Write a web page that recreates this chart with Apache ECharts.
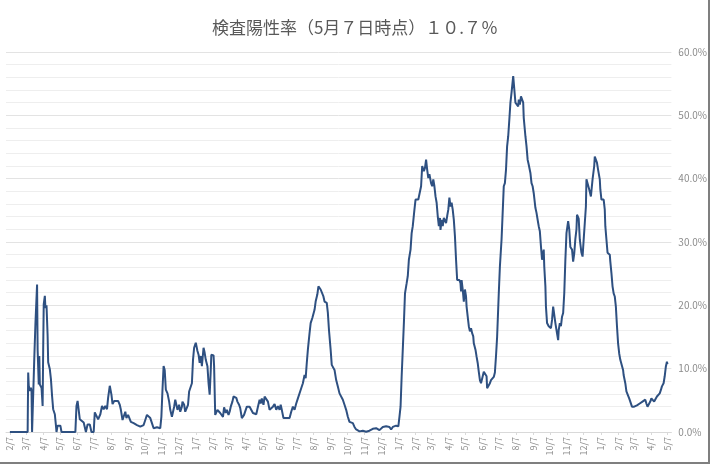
<!DOCTYPE html>
<html>
<head>
<meta charset="utf-8">
<script src="https://cdn.jsdelivr.net/npm/echarts@6/dist/echarts.min.js"></script>
<style>
html,body{margin:0;padding:0;background:#fff;}
#wrap{position:relative;width:710px;height:464px;}
#chart{position:absolute;left:0;top:0;width:710px;height:464px;}
#edgeR{position:absolute;right:0;top:0;width:2px;height:464px;background:#7f7f7f;}
#edgeB{position:absolute;left:0;bottom:0;width:710px;height:2px;background:#7f7f7f;}
</style>
</head>
<body>
<div id="wrap"><div id="chart"></div><div id="edgeR"></div><div id="edgeB"></div></div>
<script>
const titleText = '検査陽性率（5月７日時点）１０.７％';

const tickDates = [
 '2020-02-07','2020-03-07','2020-04-07','2020-05-07','2020-06-07','2020-07-07','2020-08-07','2020-09-07','2020-10-07','2020-11-07','2020-12-07',
 '2021-01-07','2021-02-07','2021-03-07','2021-04-07','2021-05-07','2021-06-07','2021-07-07','2021-08-07','2021-09-07','2021-10-07','2021-11-07','2021-12-07',
 '2022-01-07','2022-02-07','2022-03-07','2022-04-07','2022-05-07','2022-06-07','2022-07-07','2022-08-07','2022-09-07','2022-10-07','2022-11-07','2022-12-07',
 '2023-01-07','2023-02-07','2023-03-07','2023-04-07','2023-05-07'
];

const dates = [
'2020-02-07','2020-03-10','2020-03-11','2020-03-12','2020-03-14','2020-03-16','2020-03-17','2020-03-18','2020-03-21','2020-03-22',
'2020-03-24','2020-03-27','2020-03-28','2020-03-30','2020-03-31','2020-04-01','2020-04-03','2020-04-04','2020-04-06','2020-04-07',
'2020-04-08','2020-04-10','2020-04-11','2020-04-13','2020-04-15','2020-04-16','2020-04-19','2020-04-21','2020-04-23','2020-04-25',
'2020-04-28','2020-04-30','2020-05-01','2020-05-03','2020-05-08','2020-05-10','2020-06-04','2020-06-06','2020-06-08','2020-06-11',
'2020-06-12','2020-06-15','2020-06-19','2020-06-21','2020-06-23','2020-06-26','2020-06-30','2020-07-03','2020-07-07','2020-07-09',
'2020-07-12','2020-07-15','2020-07-19','2020-07-22','2020-07-25','2020-07-28','2020-07-31','2020-08-02','2020-08-05','2020-08-08',
'2020-08-10','2020-08-13','2020-08-16','2020-08-20','2020-08-23','2020-08-25','2020-08-28','2020-08-30','2020-09-02','2020-09-04',
'2020-09-07','2020-09-10','2020-09-12','2020-09-15','2020-09-17','2020-09-20','2020-09-23','2020-09-26','2020-09-29','2020-10-02',
'2020-10-05','2020-10-08','2020-10-11','2020-10-14','2020-10-17','2020-10-20','2020-10-23','2020-10-26','2020-10-29','2020-11-01',
'2020-11-04','2020-11-06','2020-11-08','2020-11-10','2020-11-12','2020-11-14','2020-11-17','2020-11-20','2020-11-22','2020-11-25',
'2020-11-27','2020-11-29','2020-12-01','2020-12-03','2020-12-05','2020-12-08','2020-12-10','2020-12-13','2020-12-14','2020-12-17',
'2020-12-19','2020-12-22','2020-12-24','2020-12-26','2020-12-29','2020-12-31','2021-01-02','2021-01-04','2021-01-07','2021-01-10',
'2021-01-12','2021-01-14','2021-01-16','2021-01-18','2021-01-21','2021-01-23','2021-01-25','2021-01-28','2021-01-30','2021-02-01',
'2021-02-03','2021-02-04','2021-02-08','2021-02-09','2021-02-11','2021-02-13','2021-02-15','2021-02-18','2021-02-20','2021-02-23',
'2021-02-25','2021-02-27','2021-03-02','2021-03-04','2021-03-07','2021-03-09','2021-03-11','2021-03-14','2021-03-16','2021-03-18',
'2021-03-21','2021-03-23','2021-03-26','2021-03-28','2021-03-31','2021-04-02','2021-04-04','2021-04-07','2021-04-09','2021-04-11',
'2021-04-14','2021-04-17','2021-04-20','2021-04-23','2021-04-26','2021-04-29','2021-05-02','2021-05-04','2021-05-06','2021-05-09',
'2021-05-11','2021-05-14','2021-05-17','2021-05-20','2021-05-23','2021-05-26','2021-05-29','2021-06-01','2021-06-04','2021-06-07',
'2021-06-09','2021-06-11','2021-06-14','2021-06-16','2021-06-19','2021-06-22','2021-06-25','2021-06-28','2021-07-01','2021-07-04',
'2021-07-07','2021-07-10','2021-07-13','2021-07-16','2021-07-19','2021-07-22','2021-07-24','2021-07-26','2021-07-28','2021-07-31',
'2021-08-02','2021-08-05','2021-08-07','2021-08-09','2021-08-11','2021-08-14','2021-08-16','2021-08-18','2021-08-20','2021-08-22',
'2021-08-25','2021-08-27','2021-08-29','2021-08-31','2021-09-02','2021-09-04','2021-09-07','2021-09-09','2021-09-12','2021-09-14',
'2021-09-17','2021-09-20','2021-09-23','2021-09-26','2021-09-29','2021-10-02','2021-10-05','2021-10-08','2021-10-11','2021-10-14',
'2021-10-17','2021-10-20','2021-10-23','2021-10-26','2021-10-29','2021-11-01','2021-11-04','2021-11-07','2021-11-10','2021-11-13',
'2021-11-16','2021-11-19','2021-11-22','2021-11-25','2021-11-28','2021-12-01','2021-12-04','2021-12-07','2021-12-10','2021-12-13',
'2021-12-16','2021-12-19','2021-12-22','2021-12-25','2021-12-28','2021-12-31','2022-01-03','2022-01-07','2022-01-09','2022-01-11',
'2022-01-13','2022-01-15','2022-01-17','2022-01-19','2022-01-22','2022-01-24','2022-01-26','2022-01-29','2022-01-31','2022-02-02',
'2022-02-05','2022-02-07','2022-02-10','2022-02-12','2022-02-14','2022-02-17','2022-02-19','2022-02-22','2022-02-24','2022-02-26',
'2022-02-28','2022-03-02','2022-03-04','2022-03-07','2022-03-09','2022-03-11','2022-03-13','2022-03-15','2022-03-17','2022-03-19',
'2022-03-21','2022-03-23','2022-03-24','2022-03-26','2022-03-28','2022-03-30','2022-04-01','2022-04-03','2022-04-05','2022-04-07',
'2022-04-09','2022-04-11','2022-04-13','2022-04-15','2022-04-17','2022-04-19','2022-04-21','2022-04-23','2022-04-25','2022-04-27',
'2022-04-29','2022-04-30','2022-05-01','2022-05-03','2022-05-05','2022-05-07','2022-05-09','2022-05-10','2022-05-12','2022-05-14',
'2022-05-16','2022-05-18','2022-05-20','2022-05-22','2022-05-23','2022-05-26','2022-05-28','2022-05-30','2022-06-01','2022-06-03',
'2022-06-05','2022-06-08','2022-06-10','2022-06-12','2022-06-15','2022-06-16','2022-06-18','2022-06-21','2022-06-23','2022-06-25',
'2022-06-28','2022-06-30','2022-07-02','2022-07-04','2022-07-07','2022-07-09','2022-07-12','2022-07-14','2022-07-16','2022-07-18',
'2022-07-20','2022-07-22','2022-07-24','2022-07-26','2022-07-28','2022-07-30','2022-08-02','2022-08-04','2022-08-06','2022-08-08',
'2022-08-11','2022-08-12','2022-08-14','2022-08-16','2022-08-18','2022-08-20','2022-08-21','2022-08-23','2022-08-24','2022-08-26',
'2022-08-28','2022-08-30','2022-09-01','2022-09-02','2022-09-04','2022-09-06','2022-09-08','2022-09-11','2022-09-13','2022-09-16',
'2022-09-17','2022-09-19','2022-09-21','2022-09-23','2022-09-25','2022-09-26','2022-09-27','2022-09-29','2022-09-30','2022-10-02',
'2022-10-05','2022-10-07','2022-10-09','2022-10-11','2022-10-13','2022-10-15','2022-10-17','2022-10-19','2022-10-22','2022-10-23',
'2022-10-25','2022-10-27','2022-10-29','2022-10-31','2022-11-02','2022-11-04','2022-11-06','2022-11-09','2022-11-11','2022-11-13',
'2022-11-16','2022-11-18','2022-11-20','2022-11-22','2022-11-24','2022-11-25','2022-11-28','2022-11-30','2022-12-03','2022-12-05',
'2022-12-07','2022-12-09','2022-12-11','2022-12-12','2022-12-15','2022-12-17','2022-12-20','2022-12-21','2022-12-23','2022-12-26',
'2022-12-27','2022-12-29','2022-12-31','2023-01-02','2023-01-05','2023-01-06','2023-01-08','2023-01-10','2023-01-12','2023-01-14',
'2023-01-15','2023-01-17','2023-01-19','2023-01-21','2023-01-23','2023-01-24','2023-01-26','2023-01-28','2023-01-30','2023-02-01',
'2023-02-03','2023-02-05','2023-02-07','2023-02-09','2023-02-11','2023-02-14','2023-02-16','2023-02-17','2023-02-20','2023-02-22',
'2023-02-25','2023-02-27','2023-03-01','2023-03-04','2023-03-06','2023-03-08','2023-03-11','2023-03-13','2023-03-16','2023-03-18',
'2023-03-20','2023-03-23','2023-03-25','2023-03-28','2023-03-30','2023-04-01','2023-04-04','2023-04-06','2023-04-08','2023-04-11',
'2023-04-13','2023-04-15','2023-04-18','2023-04-20','2023-04-23','2023-04-25','2023-04-27','2023-04-30','2023-05-02','2023-05-04',
'2023-05-06','2023-05-07'
];

const rates = [
0,0,9.4,7.3,6.5,7.0,6.5,0,0,11.7,
17,23.3,13.0,7.5,12.0,7.5,7.5,7.0,4.1,13,
20.2,21.5,19.6,20.0,15.2,11.0,9.9,8.3,5.7,3.6,
2.8,1.0,0,1.0,1.0,0,0,4.1,4.9,4.6,
2.0,1.7,1.5,1.5,0,1.2,1.2,0,0,3.1,
3.3,2.0,2.8,4.1,3.6,4.1,3.6,5.4,7.3,5.9,
4.4,4.9,4.6,4.9,4.3,3.5,1.9,2.2,3.2,2.2,
2.7,2.6,1.6,1.9,1.4,1.6,1.1,1.4,0.85,0.8,
1.1,1.9,2.7,3.0,2.2,1.4,0.6,0.85,0.75,0.95,
0.6,2.4,6.7,10.4,9.8,6.7,6.1,4.8,3.5,2.4,
2.2,4.0,5.1,4.8,3.5,4.3,3.2,4.0,4.8,4.3,
3.2,3.0,4.3,6.4,6.7,7.7,11.4,13.3,14.1,12.8,
12.2,10.9,12.0,10.4,13.3,12.5,11.4,10.4,7.7,5.9,
9.8,12.2,12.1,10.4,2.7,2.5,3.5,3.5,3.0,3.2,
2.4,3.9,3.0,3.5,2.7,3.2,4.0,4.8,5.6,5.9,
5.4,4.8,4.3,3.8,2.2,1.9,2.7,3.5,4.0,4.0,
4.0,3.7,3.0,3.2,2.8,4.0,5.1,4.5,5.3,4.3,
5.6,5.6,4.8,3.5,3.2,4.0,4.4,3.5,4.1,3.5,
4.3,3.5,2.2,2.2,2.2,2.0,2.2,3.2,4.0,3.5,
4.5,5.3,5.6,6.9,7.7,9.0,8.5,10.9,13.0,15.6,
17.2,18.0,18.3,19.3,20.6,21.7,23.0,22.8,22.5,22.2,
21.4,20.6,20.4,20.4,18.8,16.1,13.0,10.6,10.3,9.8,
8.2,7.2,6.1,5.9,5.1,4.3,3.5,2.4,1.6,1.4,
1.4,0.8,0.4,0.2,0.1,0.05,0.2,0.1,0.05,0.3,
0.2,0.4,0.5,0.3,0.6,0.5,0.3,0.6,0.8,0.6,
0.9,1.1,0.8,0.4,0.8,1.1,1.0,0.9,2.4,4.0,
8.8,13.0,17.2,21.9,23.5,24.6,27.2,28.8,31.4,32.5,
35.1,36.7,37.0,36.7,36.7,38.8,42.0,41.2,41.7,43.0,
41.4,40.1,40.7,39.3,38.8,39.9,38.8,37.2,36.2,34.1,
32.5,33.8,31.9,33.5,32.5,33.8,33.5,33.0,34.1,35.1,
37.0,35.6,36.2,35.1,33.5,30.9,27.2,24.0,23.8,24.0,
23.5,22.2,24.0,22.5,20.6,22.5,21.4,19.8,18.2,16.7,
15.9,16.4,15.6,15.1,14.0,13.0,11.9,10.9,9.5,8.2,
7.7,8.0,9.5,9.8,8.8,6.9,6.6,7.7,8.2,8.5,
8.7,9.4,12,15,21.9,26.1,30.4,34.6,38.8,39.3,
41.4,45.1,46.7,49.3,52.0,53.6,56.2,54.1,52.0,51.7,
51.4,52.5,51.7,53.0,53.3,52.0,49.6,49.9,46.7,45.1,
43.0,42.2,42.0,40.9,39.3,38.8,37.7,35.4,34.6,33.0,
32.5,31.7,29.3,27.2,26.9,28.8,26.1,23.0,19.8,17.2,
16.7,16.7,16.4,17.7,19.8,19.6,17.2,16.1,14.5,16.1,
17.2,16.7,18.2,18.8,21.9,27.2,31.4,33.3,32.0,29.2,
28.8,26.9,28.2,30.5,32.0,34.3,33.7,30.4,28.3,27.7,
30.4,33.0,35.6,39.9,40.1,38.3,37.2,37.0,39.9,42.0,
43.5,43.8,42.5,41.4,39.9,38.3,36.7,36.4,36.7,35.1,
32.5,30.4,28.3,28.0,28.0,26.9,25.1,23.0,21.9,21.4,
19.8,16.7,14.0,12.4,11.4,11.1,9.8,9.0,7.7,6.4,
6.1,5.3,4.8,4.0,4.3,4.0,4.3,4.2,4.3,4.5,
4.3,4.8,4.5,5.1,4.5,4.0,4.3,4.8,5.3,5.1,
4.8,4.5,5.6,5.9,6.1,6.6,7.2,7.7,8.8,10.3,
11.1,10.7
];

function toTime(s){ const p = s.split('-'); return +new Date(+p[0], +p[1]-1, +p[2]); }
const tickValues = tickDates.map(toTime);
const seriesData = dates.map((d,i)=>[toTime(d), rates[i]]);

const chart = echarts.init(document.getElementById('chart'), null, {renderer:'canvas'});
const font = '"Noto Sans CJK JP","Noto Sans",sans-serif';
chart.setOption({
  animation:false,
  backgroundColor:'#ffffff',
  title:{
    text: titleText, left:'center', top:14,
    textStyle:{fontSize:17, fontWeight:'normal', color:'#595959', fontFamily:font}
  },
  grid:{left:6, right:38, top:52, bottom:32, containLabel:false},
  xAxis:{
    type:'value',
    min: toTime('2020-01-31'), max: toTime('2023-05-14'),
    axisLine:{show:true, onZero:false, lineStyle:{color:'#d9d9d9', width:1}},
    axisTick:{show:true, customValues: tickValues, length:3, lineStyle:{color:'#d9d9d9'}},
    axisLabel:{
      customValues: tickValues, rotate:90, fontSize:9, color:'#8c8c8c', fontFamily:font, margin:5,
      showMinLabel:true, showMaxLabel:true,
      formatter: function(v){ const d = new Date(v); return (d.getMonth()+1)+'/'+d.getDate(); }
    },
    splitLine:{show:false}
  },
  yAxis:{
    type:'value', position:'right', min:0, max:60, interval:10,
    axisLine:{show:false}, axisTick:{show:false},
    axisLabel:{color:'#8c8c8c', fontSize:10, fontFamily:font, margin:7,
      formatter: function(v){ return v.toFixed(1)+'%'; }},
    splitLine:{show:true, lineStyle:{color:'#e3e3e3', width:1}},
    minorTick:{show:false, splitNumber:5},
    minorSplitLine:{show:true, lineStyle:{color:'#eeeeee', width:1}}
  },
  series:[{
    type:'line', data: seriesData, showSymbol:false, symbol:'none',
    lineStyle:{color:'#2e5081', width:2}, itemStyle:{color:'#2e5081'}
  }]
});
</script>
</body>
</html>
